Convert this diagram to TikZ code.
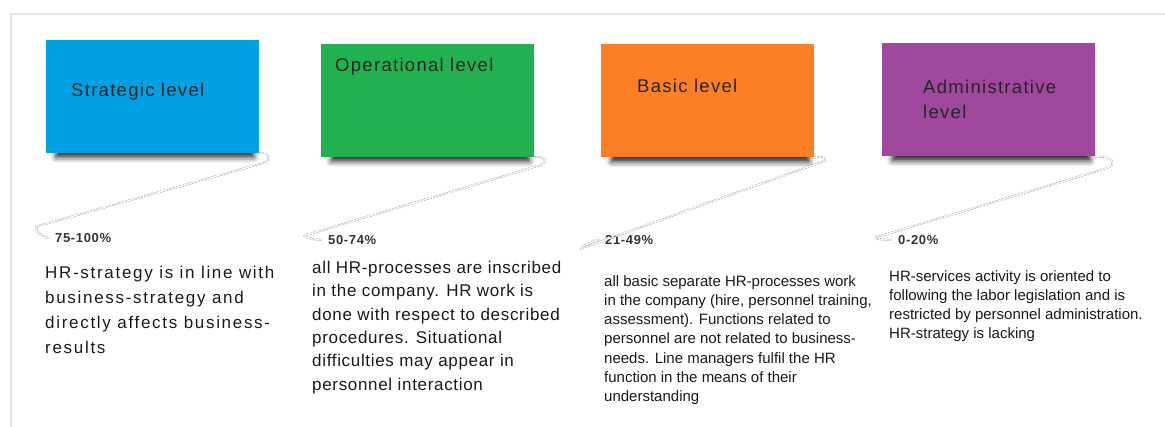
\documentclass[tikz,border=0pt]{standalone}
\usepackage{fontspec}
\setmainfont{Liberation Sans}
\usepackage{xcolor}
\definecolor{lvlblue}{RGB}{0,160,227}
\definecolor{lvlgreen}{RGB}{35,176,80}
\definecolor{lvlorange}{RGB}{253,127,37}
\definecolor{lvlpurple}{RGB}{160,72,158}
\definecolor{framegray}{RGB}{226,226,226}
\usetikzlibrary{calc, shadows.blur}

\begin{document}
\begin{tikzpicture}[x=1pt, y=-1pt,
  level/.style={rectangle, fill=#1, minimum width=213pt, minimum height=113pt, inner sep=0pt,
                blur shadow={shadow xshift=3pt, shadow yshift=-9pt, shadow scale=0.93,
                             shadow opacity=85, shadow blur radius=6pt}},
  ltitle/.style={anchor=west, inner sep=0pt, align=left, text=black!85,
                 font=\fontsize{18.5}{25}\selectfont\addfontfeature{LetterSpace=7}},
  pct/.style={anchor=west, inner xsep=6pt, inner ysep=1pt, text=black!80,
              font=\fontsize{13}{15}\selectfont\bfseries\addfontfeature{LetterSpace=5}},
  desc/.style={anchor=north west, inner sep=0pt, align=left, text=black!90},
  link/.style={draw=black!40, line width=.45pt, double=white, double distance=1.1pt,
               dash pattern=on 2pt off 1.3pt},
  frame/.style={draw=framegray, line width=2.5pt}
]
\useasboundingbox (0,0) rectangle (1165,427);
\draw[frame] (11,427) |- (1165,14);

% Level 1: Strategic
\node[level=lvlblue] (strat) at (152,96.5) {};
\node[ltitle] (tstrat) at (71,92) {Strategic level};
\node[pct] (pstrat) at (49,238) {75-100\%};
\node[desc, font=\fontsize{17}{25}\selectfont\addfontfeature{LetterSpace=10}] (dstrat) at (45,266)
  {HR-strategy is in line with\\business-strategy and\\directly affects business-\\results};
\draw[link] (strat.south east) to[out=10,in=16,looseness=2.5] ++(4,10)
  -- ($(pstrat.west)+(-11,-12)$) to[out=196,in=180] (pstrat.west);

% Level 2: Operational
\node[level=lvlgreen] (oper) at (427.5,100.5) {};
\node[ltitle] (toper) at (335,67) {Operational level};
\node[pct] (poper) at (322,240) {50-74\%};
\node[desc, font=\fontsize{17}{23.3}\selectfont\addfontfeature{LetterSpace=4}] (doper) at (312,261)
  {all HR-processes are inscribed\\in the company. HR work is\\done with respect to described\\procedures. Situational\\difficulties may appear in\\personnel interaction};
\draw[link] (oper.south east) to[out=10,in=17,looseness=2.5] ++(6,8)
  -- ($(poper.west)+(-16,-5)$) to[out=197,in=180] (poper.west);

% Level 3: Basic
\node[level=lvlorange] (basic) at (707.5,101) {};
\node[ltitle] (tbasic) at (637,86) {Basic level};
\node[pct] (pbasic) at (599,240) {21-49\%};
\node[desc, font=\fontsize{15}{19.3}\selectfont] (dbasic) at (604,275)
  {all basic separate HR-processes work\\in the company (hire, personnel training,\\assessment). Functions related to\\personnel are not related to business-\\needs. Line managers fulfil the HR\\function in the means of their\\understanding};
\draw[link] (basic.south east) to[out=15,in=20,looseness=2.5] ++(8,4)
  -- ($(pbasic.west)+(-16,8)$) to[out=200,in=180] (pbasic.west);

% Level 4: Administrative
\node[level=lvlpurple] (admin) at (988.5,100) {};
\node[ltitle] (tadmin) at (923,99.5) {Administrative\\level};
\node[pct] (padmin) at (892,240) {0-20\%};
\node[desc, font=\fontsize{15}{19.3}\selectfont] (dadmin) at (889,270)
  {HR-services activity is oriented to\\following the labor legislation and is\\restricted by personnel administration.\\HR-strategy is lacking};
\draw[link] (admin.south east) to[out=5,in=17,looseness=2.5] ++(10,12)
  -- ($(padmin.west)+(-15,-3)$) to[out=197,in=180] (padmin.west);
\end{tikzpicture}
\end{document}
